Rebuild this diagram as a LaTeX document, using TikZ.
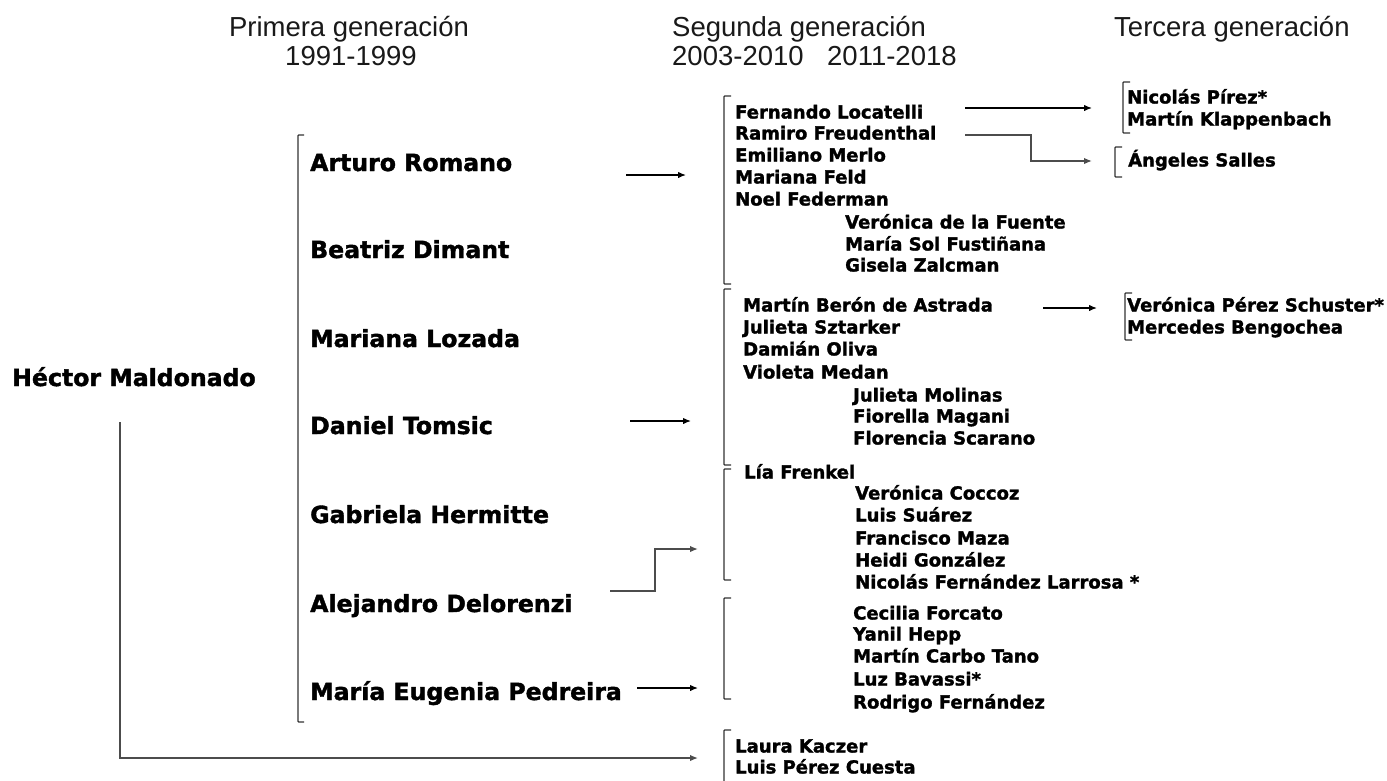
\documentclass[tikz,border=0pt]{standalone}
\usepackage{fontspec}
\setmainfont{Liberation Sans}
\newfontfamily\nmfont{DejaVu Sans}[FakeBold=1.6]
\usetikzlibrary{arrows.meta}
\tikzset{
  hdr/.style={font=\fontsize{27.5}{30}\selectfont, inner sep=0pt, text=black!90},
  big/.style={font=\nmfont\bfseries\fontsize{23.6}{26}\selectfont, anchor=base west, inner sep=0pt},
  sm/.style={font=\nmfont\bfseries\fontsize{18}{20}\selectfont, anchor=base west, inner sep=0pt},
  brk/.style={draw=black!80, line width=1.3pt, rounded corners=0.8pt},
  arr/.style={-{Latex[length=8pt,width=6.5pt]}, line width=1.3pt, draw=black},
  garr/.style={-{Latex[length=8pt,width=6.5pt]}, line width=1.5pt, draw=black!70},
}
\begin{document}
\begin{tikzpicture}[x=1pt,y=-1pt]
\useasboundingbox[fill=white] (0,0) rectangle (1387,780);
% headers
\node[hdr, anchor=base] (h1) at (349,36) {Primera generación};
\node[hdr, anchor=base] (h1y) at (351,65) {1991-1999};
\node[hdr, anchor=base west] (h2) at (672,36) {Segunda generación};
\node[hdr, anchor=base west] (h2a) at (672,65) {2003-2010};
\node[hdr, anchor=base west] (h2b) at (827,65) {2011-2018};
\node[hdr, anchor=base west] (h3) at (1114,36) {Tercera generación};
% root
\node[big] (hm) at (12,386) {Héctor Maldonado};
% first generation
\draw[brk] (304,135) -- (298,135) -- (298,722) -- (304,722);
\node[big] (ar) at (310,171) {Arturo Romano};
\node[big] (bd) at (310,258) {Beatriz Dimant};
\node[big] (ml) at (310,347) {Mariana Lozada};
\node[big] (dt) at (310,434) {Daniel Tomsic};
\node[big] (gh) at (310,523) {Gabriela Hermitte};
\node[big] (ad) at (310,612) {Alejandro Delorenzi};
\node[big] (mp) at (310,700) {María Eugenia Pedreira};
% second generation brackets
\draw[brk] (731,96) -- (724,96) -- (724,284) -- (731,284);
\draw[brk] (731,289) -- (724,289) -- (724,465) -- (731,465);
\draw[brk] (731,469) -- (724,469) -- (724,580) -- (731,580);
\draw[brk] (731,598) -- (724,598) -- (724,699) -- (731,699);
\draw[brk] (731,730) -- (724,730) -- (724,795);
% group A
\node[sm] (a1) at (735,118.5) {Fernando Locatelli};
\node[sm] (a2) at (735,139.5) {Ramiro Freudenthal};
\node[sm] (a3) at (735,161.5) {Emiliano Merlo};
\node[sm] (a4) at (735,183.5) {Mariana Feld};
\node[sm] (a5) at (735,205.5) {Noel Federman};
\node[sm] (a6) at (845,228.5) {Verónica de la Fuente};
\node[sm] (a7) at (845,250.5) {María Sol Fustiñana};
\node[sm] (a8) at (845,271.5) {Gisela Zalcman};
% group B
\node[sm] (b1) at (743,311.5) {Martín Berón de Astrada};
\node[sm] (b2) at (743,333.5) {Julieta Sztarker};
\node[sm] (b3) at (743,355.5) {Damián Oliva};
\node[sm] (b4) at (743,378.5) {Violeta Medan};
\node[sm] (b5) at (853,401.5) {Julieta Molinas};
\node[sm] (b6) at (853,422.5) {Fiorella Magani};
\node[sm] (b7) at (853,444.5) {Florencia Scarano};
% group C
\node[sm] (c1) at (744,478.5) {Lía Frenkel};
\node[sm] (c2) at (855,499.5) {Verónica Coccoz};
\node[sm] (c3) at (855,521.5) {Luis Suárez};
\node[sm] (c4) at (855,544.5) {Francisco Maza};
\node[sm] (c5) at (855,566.5) {Heidi González};
\node[sm] (c6) at (855,588.5) {Nicolás Fernández Larrosa *};
% group D
\node[sm] (d1) at (853,619.5) {Cecilia Forcato};
\node[sm] (d2) at (853,640.5) {Yanil Hepp};
\node[sm] (d3) at (853,662.5) {Martín Carbo Tano};
\node[sm] (d4) at (853,685.5) {Luz Bavassi*};
\node[sm] (d5) at (853,708.5) {Rodrigo Fernández};
% group E
\node[sm] (e1) at (735,752.5) {Laura Kaczer};
\node[sm] (e2) at (735,773.5) {Luis Pérez Cuesta};
% third generation
\draw[brk] (1130,82) -- (1123,82) -- (1123,133) -- (1130,133);
\node[sm] (t1) at (1127,103.5) {Nicolás Pírez*};
\node[sm] (t2) at (1127,125.5) {Martín Klappenbach};
\draw[brk] (1122,147) -- (1115,147) -- (1115,177) -- (1122,177);
\node[sm] (t3) at (1128,166.5) {Ángeles Salles};
\draw[brk] (1132,293) -- (1125,293) -- (1125,340) -- (1132,340);
\node[sm] (t4) at (1127,311.5) {Verónica Pérez Schuster*};
\node[sm] (t5) at (1127,333.5) {Mercedes Bengochea};
% connector points
\coordinate (pAR) at (626,175);  \coordinate (qAR) at (686,175);
\coordinate (pDT) at (630,421);  \coordinate (qDT) at (691,421);
\coordinate (pAD) at (610,591);  \coordinate (kAD) at (655,549); \coordinate (qAD) at (698,549);
\coordinate (pMP) at (637,688);  \coordinate (qMP) at (698,688);
\coordinate (pHM) at (120,422);  \coordinate (qHM) at (698,758);
\coordinate (pFL) at (965,108);  \coordinate (qFL) at (1092,108);
\coordinate (pRF) at (965,135);  \coordinate (kRF) at (1031,161); \coordinate (qRF) at (1092,161);
\coordinate (pMB) at (1043,308); \coordinate (qMB) at (1097,308);
% connectors
\draw[arr] (pAR) -- (qAR);
\draw[arr] (pDT) -- (qDT);
\draw[garr] (pAD) -| (kAD) -- (qAD);
\draw[arr] (pMP) -- (qMP);
\draw[garr] (pHM) |- (qHM);
\draw[arr] (pFL) -- (qFL);
\draw[garr] (pRF) -| (kRF) -- (qRF);
\draw[arr] (pMB) -- (qMB);
\end{tikzpicture}
\end{document}
